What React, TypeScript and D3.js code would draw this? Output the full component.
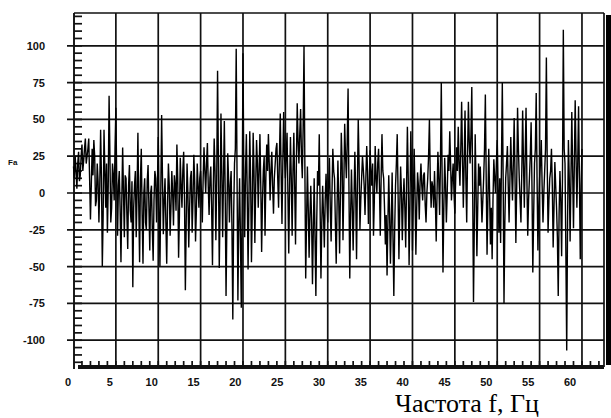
import React from "react"
import * as d3 from "d3"

// spectrum, one value every 0.1 Hz, 5 Hz per row
const fa0 = [18, 10, 25, 15, 3, 20, 28, 8, 12, 25, 33, 15, 22, 30, 37, 20, 25, 30, 37, 10, -18, 5, 30, 12, 36, 25, -9, -5, 20, 8, -20, 5, 43, 10, -50, -15, 43, 15, -10, 20, -27, 5, 66, 25, -20, -10, 20, 12, -5, 30]
const fa5 = [58, 10, -29, 5, 15, -10, -47, -5, 31, 0, -30, 12, 10, -15, -38, 5, 19, -12, -20, 8, -64, -10, 5, 15, -30, 0, 41, -8, -47, 10, 30, -15, -48, 0, 10, -20, -25, 8, 19, -10, -39, 0, 5, -25, -46, -5, 15, 10, -20, 5]
const fa10 = [38, -10, -50, 0, 53, 10, -28, -5, 10, -20, -48, -8, 20, 5, -29, -10, 15, 0, -22, 12, 5, -12, 33, 10, -44, -15, 24, 5, -10, 15, 28, -5, -66, -20, 20, 0, -37, -10, 10, 15, -27, -5, 26, 8, -33, -12, 20, 5, -10, 10]
const fa15 = [15, 0, -20, 10, 31, 15, 0, 20, 34, 5, -15, 10, 18, -10, -49, 5, 37, 15, -32, 10, 83, 20, -51, -10, 54, 15, -30, 10, 49, 0, -70, -20, 27, 10, -20, 5, 15, -25, -86, -15, 20, 30, 98, 10, -73, -20, 10, -30, -78, -10]
const fa20 = [95, 10, -30, 15, 40, 0, -52, -5, 42, 10, -47, -10, 41, 15, -34, 5, 36, 20, -10, 15, 40, 5, -40, -5, 15, 25, -29, 10, 33, 15, 40, 20, -5, 15, 28, 5, -14, 10, 20, 30, 34, 10, -10, 25, 54, 15, -21, 20, 55, 25]
const fa25 = [10, 25, 41, 0, -41, 5, 38, 10, -29, 15, 41, 5, -35, 20, 61, 35, 20, 40, 57, 25, 10, 45, 100, 20, -58, -20, 18, -10, -44, -15, 5, -20, -62, -25, 10, -30, -70, -20, 15, 5, 40, -10, -58, -20, 5, -15, -37, -5, 13, -5]
const fa30 = [-20, 5, 24, -10, -33, 0, 30, 15, 10, -20, -48, -10, 22, -5, -41, 0, 41, 20, -32, 5, 47, 25, 10, 35, 71, 5, -58, -15, 16, -10, -39, -5, 28, 0, -45, 5, 50, 20, -25, -5, 10, 25, 16, 5, -15, 10, 32, 15, -21, 5]
const fa35 = [29, 15, 5, 20, -29, -5, 32, 10, 0, 20, 30, 5, -29, 10, 40, 15, 10, -10, -35, -15, -56, -20, 12, -15, -48, -20, 14, -30, -70, -25, 5, 20, 40, 0, -45, -10, 18, 0, -32, -5, 10, -10, -37, 5, 45, 10, -49, -10, 42, 10]
const fa40 = [-39, -5, 30, 0, -42, -10, 14, 5, -18, 8, 20, 5, -5, 12, 14, -8, -20, 0, 10, 25, 50, 10, -10, 8, 4, -10, 15, -5, -33, 0, 28, 10, -15, 20, 75, 10, -54, -10, 24, 5, -20, 0, 26, 15, 42, 20, -5, 10, 20, 0]
const fa45 = [-14, 10, 31, 15, 45, 20, 5, 30, 62, 25, -10, 20, 56, 10, -20, 25, 62, 35, 20, 40, 72, 5, -74, -20, 40, 5, -43, -10, 20, 5, 18, 0, -20, -5, 10, 30, 67, 10, -42, -5, 30, 0, -35, -10, -45, -5, 23, 10, 0, 20]
const fa50 = [36, 5, -27, 10, -34, 20, 75, 10, -75, -20, 10, 20, 32, 5, -20, 10, 38, 15, -5, 20, 51, 10, -34, 5, 58, 30, 10, -5, -20, 15, 56, 20, -10, 25, 58, 10, -29, -5, 10, 25, 48, 5, -54, -15, 20, 30, 68, 10, -39, -10]
const fa55 = [10, 20, 36, 5, -20, 0, 15, 30, 92, 20, -27, -5, 10, 15, 30, 5, -37, -10, 21, 5, -10, -30, -70, -15, 15, -5, -43, 10, 111, 30, 20, -40, -107, -20, 36, 10, -33, 10, 55, 15, -24, 20, 63, 25, -10, 20, 59, 10, -45, 5]
const fa60 = [30]

const step = 0.1
const amplitude = [...fa0, ...fa5, ...fa10, ...fa15, ...fa20, ...fa25, ...fa30, ...fa35, ...fa40, ...fa45, ...fa50, ...fa55, ...fa60]

const xTicks = [0, 5, 10, 15, 20, 25, 30, 35, 40, 45, 50, 55, 60]
const yTicks = [-100, -75, -50, -25, 0, 25, 50, 75, 100]
const xTitle = "Частота f, Гц"
const yTitle = "Fa"

export default function App() {
  const W = 611
  const H = 418
  const left = 74
  const right = 604
  const top = 13
  const bottom = 367

  const x = d3.scaleLinear().domain([0, 62.6]).range([73.5, right])
  const y = d3.scaleLinear().domain([-118.2, 122.3]).range([bottom, top])
  // the printed labels drift a little left of their grid lines
  const xLab = d3.scaleLinear().domain([0, 60]).range([68, 570])

  const pts: [number, number][] = amplitude.map((v, i) => [i * step, v])
  const line = d3.line<[number, number]>()
    .x(d => x(d[0]))
    .y(d => y(d[1]))

  const minorX = d3.range(1, 63)
  const minorY = d3.range(-115, 125, 5)

  const font = "'Liberation Sans', Arial, sans-serif"

  return (
    <svg width={W} height={H} style={{ position: "absolute", left: 0, top: 0, background: "#fff" }}>
      {/* grid */}
      {yTicks.map(t => (
        <line key={"gy" + t} x1={67} x2={right} y1={y(t)} y2={y(t)} stroke="#111" strokeWidth={1.7} />
      ))}
      {xTicks.slice(1).map(t => (
        <line key={"gx" + t} x1={x(t)} x2={x(t)} y1={top} y2={bottom} stroke="#111" strokeWidth={1.7} />
      ))}
      {/* frame */}
      <line x1={left} x2={right} y1={top} y2={top} stroke="#111" strokeWidth={1.7} />
      <line x1={right} x2={right} y1={top} y2={bottom} stroke="#111" strokeWidth={1.7} />
      <line x1={left} x2={left} y1={top} y2={bottom + 2} stroke="#111" strokeWidth={1.9} />
      <line x1={left + 4} x2={right} y1={bottom} y2={bottom} stroke="#111" strokeWidth={4} />
      {/* minor ticks */}
      {minorY.map(t => (
        <line key={"my" + t} x1={left} x2={left + 8} y1={y(t)} y2={y(t)} stroke="#111" strokeWidth={1.7} />
      ))}
      {minorX.map(t => (
        <line key={"mx" + t} x1={x(t)} x2={x(t)} y1={bottom} y2={bottom - 6} stroke="#111" strokeWidth={1.7} />
      ))}
      {/* scan edge */}
      <rect x={606} y={15} width={5} height={350} fill="#000" />

      {/* signal */}
      <path d={line(pts) ?? ""} fill="none" stroke="#000" strokeWidth={1.4} strokeLinejoin="miter" />

      {/* labels */}
      {yTicks.map(t => (
        <text key={"ly" + t} x={45} y={y(t) + 4} textAnchor="end" fontFamily={font} fontWeight="bold" fontSize={11} fill="#111">
          {t}
        </text>
      ))}
      {xTicks.map(t => (
        <text key={"lx" + t} x={xLab(t)} y={386} textAnchor="middle" fontFamily={font} fontWeight="bold" fontSize={11} fill="#111">
          {t}
        </text>
      ))}
      <text x={8} y={165} fontFamily={font} fontWeight="bold" fontSize={8} fill="#111">{yTitle}</text>
      <text x={395} y={412} fontFamily="'Liberation Serif', 'Times New Roman', serif" fontSize={26} fill="#000">{xTitle}</text>
    </svg>
  )
}
